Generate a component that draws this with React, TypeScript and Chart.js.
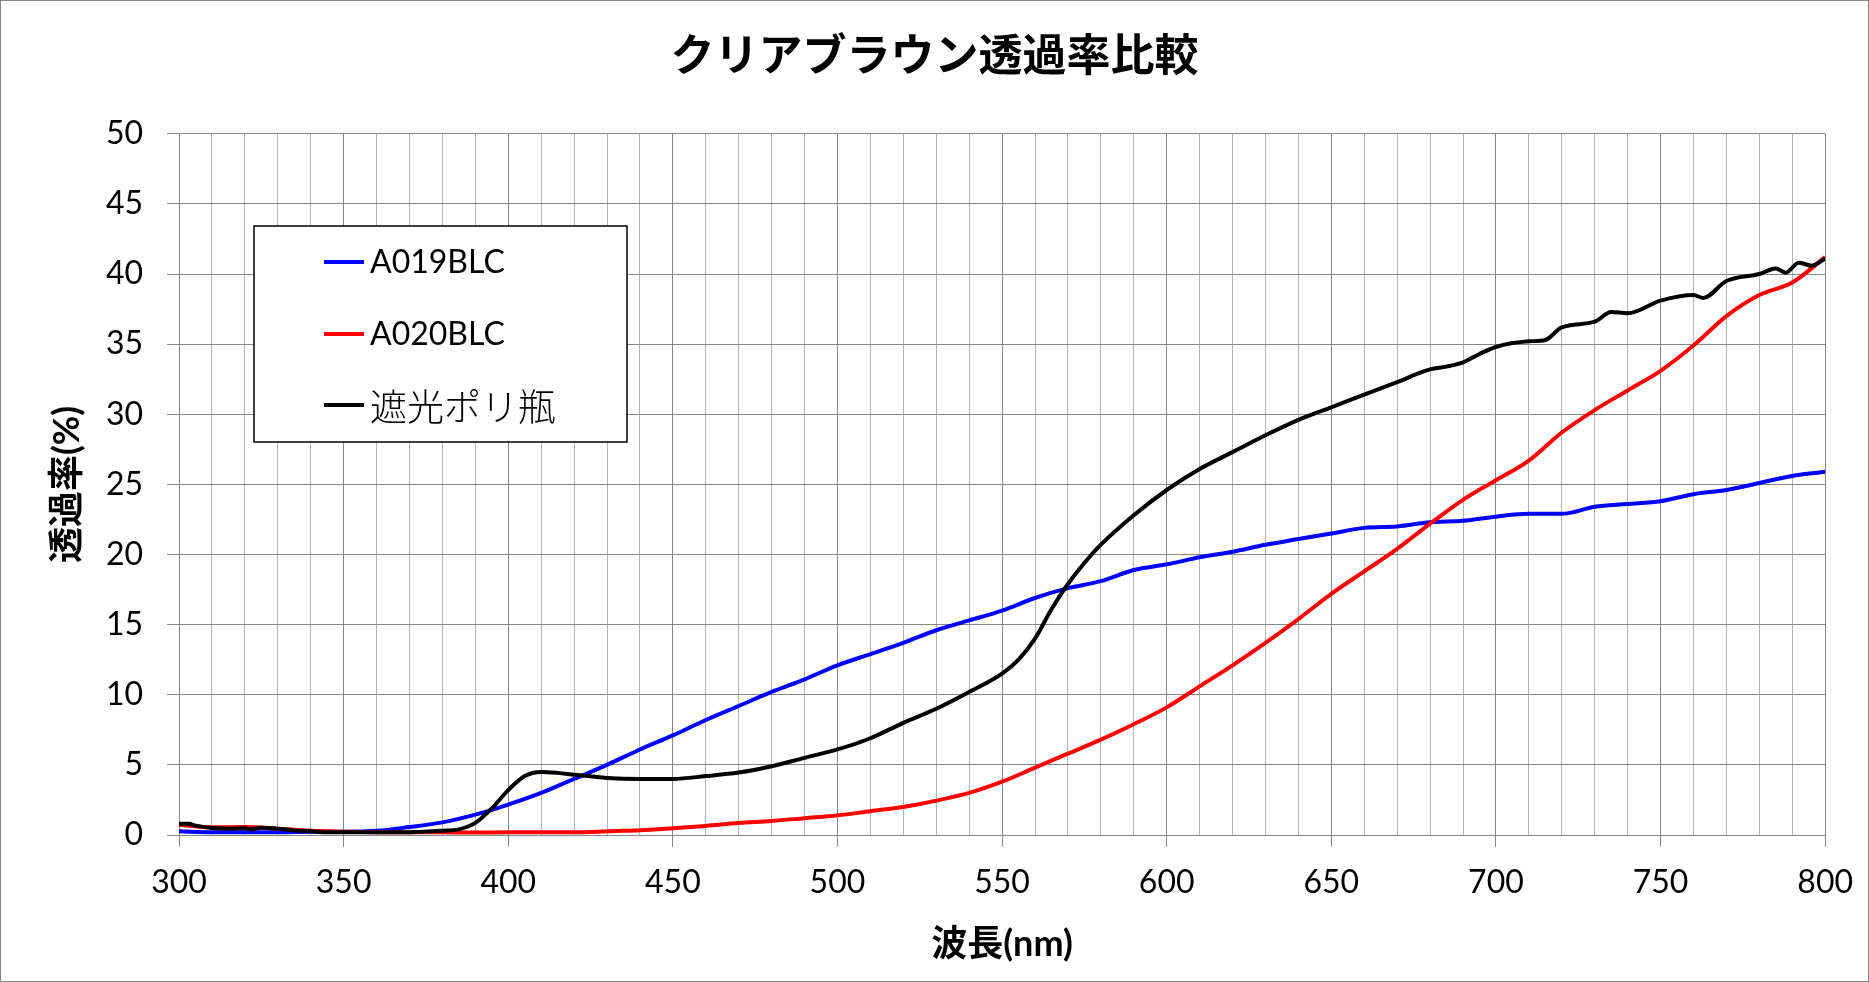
import React, { useEffect, useRef } from "react";
import { Chart, registerables } from "chart.js";

Chart.register(...registerables);

const TITLE = "クリアブラウン透過率比較";
const X_TITLE = "波長(nm)";
const Y_TITLE = "透過率(%)";
const SERIES_NAMES = ["A019BLC", "A020BLC", "遮光ポリ瓶"];
const SERIES_COLORS = ["#0000ff", "#ff0000", "#000000"];

const X_MIN = 300;
const X_MAX = 800;
const X_STEP = 10;
const X_LABEL_EVERY = 50;
const Y_MIN = 0;
const Y_MAX = 50;
const Y_STEP = 5;

// A019BLC
const blueWavelengths = [
  300, 310, 320, 330, 340, 350, 360, 370, 380, 390, 400, 410, 420, 430, 440, 450,
  460, 470, 480, 490, 500, 510, 520, 530, 540, 550, 560, 570, 580, 590, 600, 610,
  620, 630, 640, 650, 660, 670, 680, 690, 700, 710, 720, 730, 740, 750, 760, 770,
  780, 790, 800,
];
const blueValues = [
  0.26, 0.2, 0.2, 0.2, 0.24, 0.24, 0.3, 0.57, 0.9, 1.45, 2.17, 3.0, 4.0, 5.0, 6.1, 7.1,
  8.2, 9.2, 10.2, 11.1, 12.1, 12.9, 13.7, 14.6, 15.3, 16.0, 16.9, 17.6, 18.1, 18.9, 19.3, 19.8,
  20.2, 20.7, 21.1, 21.5, 21.9, 22.0, 22.3, 22.4, 22.7, 22.9, 22.9, 23.4, 23.6, 23.8, 24.3, 24.6,
  25.1, 25.6, 25.9,
];

// A020BLC
const redWavelengths = [
  300, 310, 320, 330, 340, 350, 360, 370, 380, 390, 400, 410, 420, 430, 440, 450,
  460, 470, 480, 490, 500, 510, 520, 530, 540, 550, 560, 570, 580, 590, 600, 610,
  620, 630, 640, 650, 660, 670, 680, 690, 700, 710, 720, 730, 740, 750, 760, 770,
  780, 790, 800,
];
const redValues = [
  0.74, 0.55, 0.57, 0.45, 0.3, 0.24, 0.2, 0.2, 0.2, 0.17, 0.2, 0.2, 0.2, 0.26, 0.33, 0.48,
  0.65, 0.85, 1.0, 1.2, 1.4, 1.7, 2.0, 2.45, 3.0, 3.8, 4.8, 5.8, 6.8, 7.9, 9.1, 10.6,
  12.1, 13.7, 15.4, 17.2, 18.8, 20.4, 22.2, 23.9, 25.3, 26.7, 28.7, 30.3, 31.7, 33.1, 34.9, 37.0,
  38.5, 39.4, 41.2,
];

// 遮光ポリ瓶
const blackWavelengths = [
  300, 303, 305, 310, 315, 320, 322, 325, 330, 335,
  340, 345, 350, 360, 370, 380, 385, 390, 395, 400,
  405, 410, 415, 420, 430, 440, 450, 460, 470, 480,
  490, 500, 510, 520, 530, 540, 550, 555, 560, 565,
  570, 575, 580, 590, 600, 610, 620, 630, 640, 650,
  660, 670, 680, 685, 690, 695, 700, 710, 715, 720,
  730, 735, 740, 750, 760, 763, 770, 780, 785, 788,
  792, 796, 800,
];
const blackValues = [
  0.8, 0.8, 0.67, 0.5, 0.45, 0.48, 0.4, 0.52, 0.45, 0.33,
  0.26, 0.2, 0.2, 0.2, 0.2, 0.3, 0.4, 0.86, 1.9, 3.2,
  4.2, 4.5, 4.43, 4.3, 4.07, 4.0, 4.0, 4.2, 4.45, 4.9,
  5.5, 6.1, 6.9, 8.0, 9.0, 10.2, 11.5, 12.5, 14.0, 16.1,
  17.9, 19.4, 20.7, 22.8, 24.6, 26.1, 27.3, 28.5, 29.6, 30.5,
  31.4, 32.3, 33.2, 33.4, 33.7, 34.3, 34.8, 35.2, 35.3, 36.2,
  36.6, 37.3, 37.2, 38.1, 38.5, 38.3, 39.5, 40.0, 40.4, 40.1,
  40.8, 40.6, 41.1,
];

const W = 1869;
const H = 982;
const LATIN = "Lato, 'Noto Sans CJK JP', sans-serif";
const CJK = "'Noto Sans CJK JP', sans-serif";
const GRID_MAJOR = "#868686";
const GRID_MINOR = "#b3b3b3";

const toPoints = (xs: number[], ys: number[]) => xs.map((x, i) => ({ x, y: ys[i] }));

const boxLegendPlugin = {
  id: "boxLegend",
  afterDraw(chart: any) {
    const ctx = chart.ctx;
    ctx.save();
    // outer frame
    ctx.strokeStyle = GRID_MAJOR;
    ctx.lineWidth = 1;
    ctx.strokeRect(0.5, 0.5, W - 1, H - 1);

    // legend box
    const bx = 254, by = 226, bw = 373, bh = 216;
    ctx.fillStyle = "#ffffff";
    ctx.fillRect(bx, by, bw, bh);
    ctx.strokeStyle = "#000000";
    ctx.lineWidth = 1.5;
    ctx.strokeRect(bx, by, bw, bh);
    const rowY = [262, 334, 405];
    chart.data.datasets.forEach((ds: any, i: number) => {
      const y = rowY[i];
      ctx.strokeStyle = ds.borderColor;
      ctx.lineWidth = 4;
      ctx.beginPath();
      ctx.moveTo(324, y);
      ctx.lineTo(364, y);
      ctx.stroke();
      const isCjk = /[^\x00-\x7F]/.test(ds.label);
      ctx.font = isCjk ? `300 37px ${CJK}` : `32px ${LATIN}`;
      ctx.fillStyle = "#000000";
      ctx.textBaseline = "middle";
      ctx.textAlign = "left";
      ctx.fillText(ds.label, 370, y + (isCjk ? 2 : 1));
    });
    ctx.restore();
  },
};

export default function App() {
  const canvasRef = useRef<HTMLCanvasElement | null>(null);

  useEffect(() => {
    document.body.style.margin = "0";
    const canvas = canvasRef.current;
    if (!canvas) return;
    const chart = new Chart(canvas, {
      type: "line",
      data: {
        datasets: [
          {
            label: SERIES_NAMES[0],
            data: toPoints(blueWavelengths, blueValues),
            borderColor: SERIES_COLORS[0],
            order: 2,
          },
          {
            label: SERIES_NAMES[1],
            data: toPoints(redWavelengths, redValues),
            borderColor: SERIES_COLORS[1],
            order: 1,
          },
          {
            label: SERIES_NAMES[2],
            data: toPoints(blackWavelengths, blackValues),
            borderColor: SERIES_COLORS[2],
            order: 0,
          },
        ].map((d) => ({
          ...d,
          borderWidth: 4,
          pointRadius: 0,
          pointHoverRadius: 0,
          fill: false,
          cubicInterpolationMode: "monotone" as const,
        })),
      },
      options: {
        responsive: false,
        animation: false,
        devicePixelRatio: 1,
        layout: { padding: { left: 42, right: 42, top: 0, bottom: 0 } },
        plugins: {
          legend: { display: false },
          tooltip: { enabled: false },
          title: {
            display: true,
            text: TITLE,
            color: "#000000",
            font: { family: CJK, size: 44, weight: "bold", lineHeight: 1.2 },
            padding: { top: 28, bottom: 53 },
          },
        },
        scales: {
          x: {
            type: "linear",
            min: X_MIN,
            max: X_MAX,
            afterFit: (scale: any) => {
              scale.height = H - 835;
            },
            ticks: {
              stepSize: X_STEP,
              autoSkip: false,
              maxRotation: 0,
              minRotation: 0,
              color: "#000000",
              padding: 16,
              font: { family: LATIN, size: 32 },
              callback: (v: any) => (Number(v) % X_LABEL_EVERY === 0 ? String(v) : ""),
            },
            grid: {
              color: (c: any) => (c.tick && c.tick.value % X_LABEL_EVERY === 0 ? GRID_MAJOR : GRID_MINOR),
              tickColor: (c: any) => (c.tick && c.tick.value % X_LABEL_EVERY === 0 ? GRID_MAJOR : "rgba(0,0,0,0)"),
              tickLength: 12,
              lineWidth: 1,
            },
            border: { display: true, color: GRID_MAJOR },
            title: {
              display: true,
              text: X_TITLE,
              color: "#000000",
              font: { family: LATIN, size: 36, weight: "bold", lineHeight: 1.2 },
              padding: { top: 0, bottom: 16 },
            },
          },
          y: {
            type: "linear",
            min: Y_MIN,
            max: Y_MAX,
            afterFit: (scale: any) => {
              scale.width = 179 - 42;
            },
            ticks: {
              stepSize: Y_STEP,
              color: "#000000",
              padding: 24,
              font: { family: LATIN, size: 32 },
            },
            grid: {
              color: GRID_MAJOR,
              tickColor: GRID_MAJOR,
              tickLength: 12,
              lineWidth: 1,
            },
            border: { display: true, color: GRID_MAJOR },
            title: {
              display: true,
              text: Y_TITLE,
              color: "#000000",
              font: { family: LATIN, size: 36, weight: "bold", lineHeight: 1.2 },
              padding: { top: 4, bottom: 0 },
            },
          },
        },
      },
      plugins: [boxLegendPlugin],
    });
    return () => chart.destroy();
  }, []);

  return (
    <div style={{ width: W, height: H, background: "#ffffff" }}>
      <canvas ref={canvasRef} width={W} height={H} style={{ display: "block", width: W, height: H }} />
    </div>
  );
}
